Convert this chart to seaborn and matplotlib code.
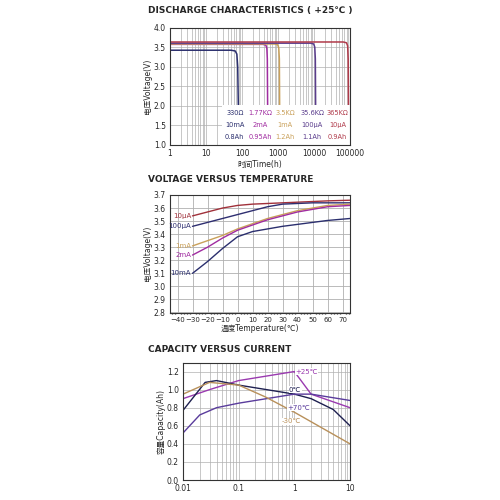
import numpy as np
import matplotlib
matplotlib.use("Agg")
import matplotlib.pyplot as plt
import seaborn as sns
from matplotlib.ticker import LogLocator, NullFormatter, MultipleLocator

sns.set_theme(style="white")
plt.rcParams["font.family"] = ["DejaVu Sans", "Noto Sans CJK SC"]

# Discharge curves
dis_t = {
    "330Ω": [1, 50, 65, 72, 76, 79, 81],
    "1.77KΩ": [1, 380, 460, 490, 505, 515, 520],
    "3.5KΩ": [1, 800, 980, 1050, 1090, 1110, 1120],
    "35.6KΩ": [1, 8000, 9800, 10500, 10900, 11100, 11200],
    "365KΩ": [1, 65000, 80000, 86000, 89000, 91000, 92000],
}
dis_v = {
    "330Ω": [3.42, 3.42, 3.40, 3.32, 3.0, 2.0, 1.0],
    "1.77KΩ": [3.57, 3.57, 3.55, 3.47, 3.2, 2.0, 1.0],
    "3.5KΩ": [3.58, 3.58, 3.56, 3.48, 3.2, 2.0, 1.0],
    "35.6KΩ": [3.60, 3.60, 3.58, 3.50, 3.2, 2.0, 1.0],
    "365KΩ": [3.63, 3.63, 3.61, 3.53, 3.2, 2.0, 1.0],
}
dis_colors = ["#2b2f6e", "#a02ca0", "#c9a05a", "#5a3c8c", "#b03a4a"]
dis_curr = ["10mA", "2mA", "1mA", "100μA", "10μA"]
dis_cap = ["0.8Ah", "0.95Ah", "1.2Ah", "1.1Ah", "0.9Ah"]

# Voltage vs temperature
temp = [-30, -20, -10, 0, 10, 20, 30, 40, 50, 60, 75]
vt = {
    "10μA": [3.54, 3.57, 3.60, 3.62, 3.63, 3.635, 3.64, 3.645, 3.65, 3.655, 3.66],
    "100μA": [3.46, 3.49, 3.52, 3.55, 3.58, 3.61, 3.63, 3.635, 3.64, 3.64, 3.64],
    "1mA": [3.31, 3.35, 3.39, 3.44, 3.48, 3.52, 3.55, 3.58, 3.60, 3.62, 3.63],
    "2mA": [3.24, 3.30, 3.37, 3.43, 3.47, 3.51, 3.54, 3.57, 3.59, 3.61, 3.62],
    "10mA": [3.10, 3.19, 3.29, 3.38, 3.42, 3.44, 3.46, 3.475, 3.49, 3.505, 3.52],
}
vt_colors = ["#a0303a", "#2e2e70", "#c9a05a", "#a02ca0", "#2b2f6e"]

# Capacity vs current
cur = {
    "+25℃": [0.01, 0.03, 0.1, 1.0, 2.0, 10],
    "0℃": [0.01, 0.025, 0.04, 0.1, 1.0, 2.0, 5.0, 10],
    "+70℃": [0.01, 0.02, 0.04, 0.1, 1.0, 2.0, 10],
    "-30℃": [0.01, 0.03, 0.1, 0.3, 1.0, 10],
}
cap = {
    "+25℃": [0.90, 1.00, 1.10, 1.20, 0.95, 0.80],
    "0℃": [0.77, 1.08, 1.10, 1.05, 0.95, 0.90, 0.78, 0.60],
    "+70℃": [0.52, 0.72, 0.80, 0.85, 0.95, 0.95, 0.88],
    "-30℃": [0.95, 1.08, 1.05, 0.92, 0.75, 0.40],
}
cap_colors = ["#9a3ab0", "#1e2050", "#5a3c9c", "#b8905a"]
cap_lab_pos = {"+25℃": (1.05, 1.2), "0℃": (0.8, 1.0), "+70℃": (0.75, 0.8), "-30℃": (0.6, 0.65)}

fig = plt.figure(figsize=(5, 5), dpi=100)
tick_kw = dict(labelsize=5.5, length=2, pad=1)
gcol = "#b0b0b0"
title_kw = dict(fontsize=6.5, fontweight="bold")

# Panel 1
ax1 = fig.add_axes([0.34, 0.71, 0.36, 0.235])
for (k, c) in zip(dis_t, dis_colors):
    sns.lineplot(x=dis_t[k], y=dis_v[k], ax=ax1, color=c, lw=1.1, sort=False)
ax1.set_xscale("log")
ax1.set_xlim(1, 100000)
ax1.set_ylim(1.0, 4.0)
ax1.xaxis.set_minor_locator(LogLocator(10, subs=np.arange(2, 10)))
ax1.xaxis.set_minor_formatter(NullFormatter())
ax1.set_xticks([1, 10, 100, 1000, 10000, 100000])
ax1.set_xticklabels(["1", "10", "100", "1000", "10000", "100000"])
ax1.yaxis.set_major_locator(MultipleLocator(0.5))
ax1.grid(True, which="both", color=gcol, lw=0.5)
ax1.tick_params(**tick_kw)
ax1.set_xlabel("时间Time(h)", fontsize=5.5, labelpad=1)
ax1.set_ylabel("电压Voltage(V)", fontsize=5.5, labelpad=1)
fig.text(0.296, 0.975, "DISCHARGE CHARACTERISTICS ( +25℃ )", **title_kw)
ax1.add_patch(plt.Rectangle((0.29, 0.0), 0.71, 0.34, transform=ax1.transAxes,
                            fc="white", ec="none", zorder=2.5))
xs = [0.36, 0.50, 0.64, 0.79, 0.93]
for i, k in enumerate(dis_t):
    for j, s in enumerate([k, dis_curr[i], dis_cap[i]]):
        ax1.text(xs[i], 0.27 - j * 0.1, s, transform=ax1.transAxes, fontsize=4.8,
                 color=dis_colors[i], ha="center", va="center", zorder=3)

# Panel 2
ax2 = fig.add_axes([0.34, 0.375, 0.36, 0.235])
for (k, c) in zip(vt, vt_colors):
    sns.lineplot(x=temp, y=vt[k], ax=ax2, color=c, lw=1.0)
    ax2.text(-31, vt[k][0], k, fontsize=5, color=c, ha="right", va="center")
ax2.set_xlim(-45, 75)
ax2.set_ylim(2.8, 3.7)
ax2.set_xticks(range(-40, 80, 10))
ax2.xaxis.set_minor_locator(MultipleLocator(2))
ax2.yaxis.set_major_locator(MultipleLocator(0.1))
ax2.grid(True, which="major", color=gcol, lw=0.6)
ax2.tick_params(**tick_kw)
ax2.tick_params(axis="x", labelsize=5)
ax2.tick_params(which="minor", length=1, bottom=True)
ax2.set_xlabel("温度Temperature(℃)", fontsize=5.5, labelpad=1)
ax2.set_ylabel("电压Voltage(V)", fontsize=5.5, labelpad=1)
fig.text(0.296, 0.635, "VOLTAGE VERSUS TEMPERATURE", **title_kw)

# Panel 3
ax3 = fig.add_axes([0.366, 0.04, 0.334, 0.235])
for (k, c) in zip(cur, cap_colors):
    sns.lineplot(x=cur[k], y=cap[k], ax=ax3, color=c, lw=1.0)
    px, py = cap_lab_pos[k]
    ax3.text(px, py, k, fontsize=5, color=c, va="center",
             bbox=dict(fc="white", ec="none", pad=0.3))
ax3.set_xscale("log")
ax3.set_xlim(0.01, 10)
ax3.set_ylim(0, 1.3)
ax3.xaxis.set_minor_locator(LogLocator(10, subs=np.arange(2, 10)))
ax3.xaxis.set_minor_formatter(NullFormatter())
ax3.set_xticks([0.01, 0.1, 1, 10])
ax3.set_xticklabels(["0.01", "0.1", "1", "10"])
ax3.yaxis.set_major_locator(MultipleLocator(0.2))
ax3.grid(True, which="both", color=gcol, lw=0.5)
ax3.tick_params(**tick_kw)
ax3.set_ylabel("容量Capacity(Ah)", fontsize=5.5, labelpad=1)
fig.text(0.296, 0.295, "CAPACITY VERSUS CURRENT", **title_kw)

for ax in (ax1, ax2, ax3):
    for s in ax.spines.values():
        s.set_color("#333333")
        s.set_linewidth(0.8)

fig.savefig("out.png", dpi=100)
